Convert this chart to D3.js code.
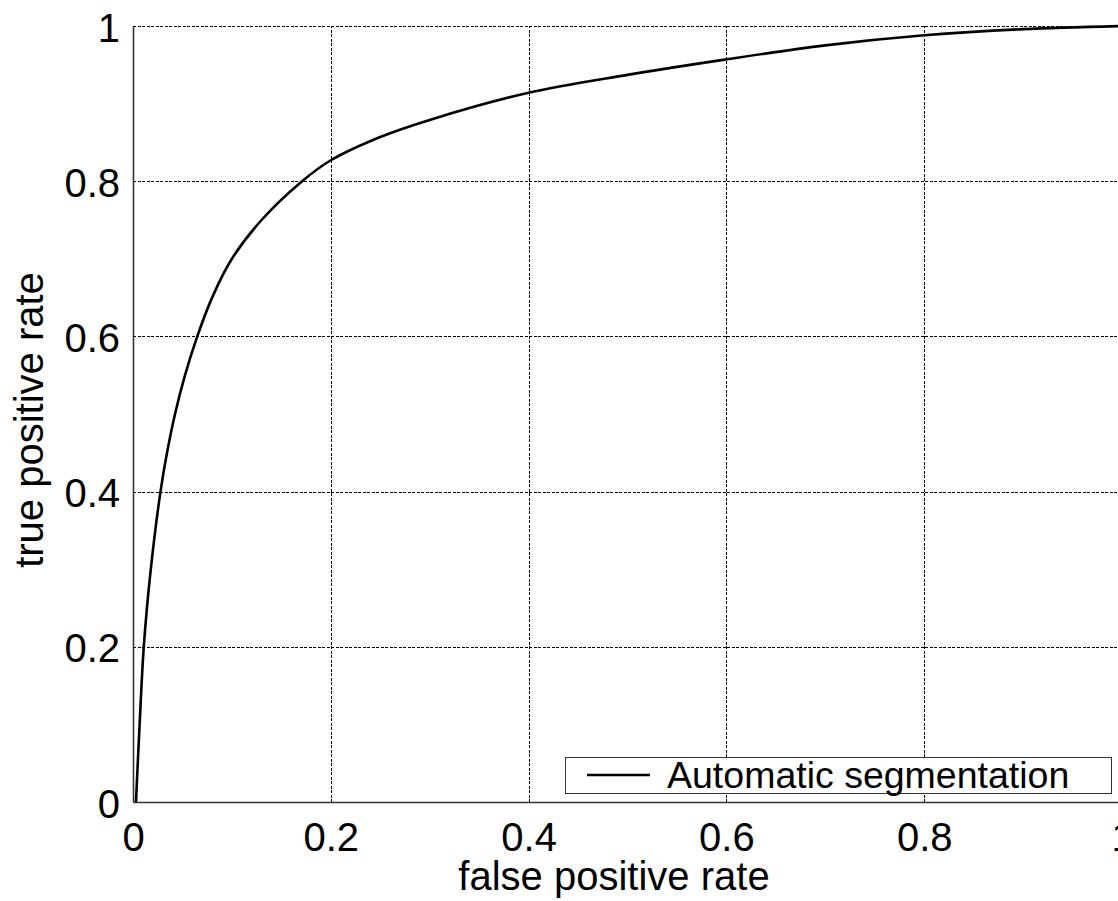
<!DOCTYPE html>
<html>
<head>
<meta charset="utf-8">
<script src="https://cdn.jsdelivr.net/npm/d3@7"></script>
<style>
    body { margin: 0; background: #fff; }
    svg { display: block; font-family: "Liberation Sans", Arial, sans-serif; }
</style>
</head>
<body>
<svg id="chart" width="1118" height="901"></svg>
<script>
// ROC curve
const fpr = [0.003, 0.0067, 0.0109, 0.018, 0.0278, 0.0344, 0.0425, 0.0526, 0.065, 0.08, 0.10, 0.13, 0.171, 0.2, 0.25, 0.3, 0.4, 0.5, 0.6, 0.7, 0.8, 0.9, 1.0];
const tpr = [0, 0.1, 0.2, 0.3, 0.4, 0.45, 0.5, 0.55, 0.6, 0.65, 0.7, 0.75, 0.8, 0.827, 0.857, 0.879, 0.914, 0.937, 0.957, 0.975, 0.988, 0.996, 1.0];
const xTicks = [0, 0.2, 0.4, 0.6, 0.8, 1];
const yTicks = [0, 0.2, 0.4, 0.6, 0.8, 1];
const seriesName = "Automatic segmentation";

const svg = d3.select("#chart");
const plotLeft = 133, plotRight = 1122, plotTop = 26, plotBottom = 802;

const x = d3.scaleLinear().domain([0, 1]).range([plotLeft, plotRight]);
const y = d3.scaleLinear().domain([0, 1]).range([plotBottom, plotTop]);
const fmt = d => String(d);

// grid (dotted)
const grid = svg.append("g").attr("stroke", "#000").attr("stroke-width", 1)
    .attr("stroke-dasharray", "3,1.5").attr("shape-rendering", "crispEdges");
grid.selectAll(".gx").data(xTicks.filter(d => d > 0)).join("line")
    .attr("x1", d => Math.round(x(d)) + 0.5).attr("x2", d => Math.round(x(d)) + 0.5)
    .attr("y1", plotBottom).attr("y2", plotTop);
grid.selectAll(".gy").data(yTicks.filter(d => d > 0)).join("line")
    .attr("y1", d => Math.round(y(d)) + 0.5).attr("y2", d => Math.round(y(d)) + 0.5)
    .attr("x1", plotLeft).attr("x2", plotRight);

// axes
const xAxis = d3.axisBottom(x).tickValues(xTicks).tickFormat(fmt).tickSize(0).tickPadding(0);
const yAxis = d3.axisLeft(y).tickValues(yTicks).tickFormat(fmt).tickSize(0).tickPadding(0);

const gx = svg.append("g").attr("transform", `translate(0,${plotBottom})`).call(xAxis);
gx.select(".domain").attr("stroke", "#333").attr("stroke-width", 1.6);
gx.selectAll("text").attr("font-size", 40).attr("fill", "#000")
    .attr("dy", null).attr("y", 49);

const gy = svg.append("g").attr("transform", `translate(${plotLeft},0)`).call(yAxis);
gy.select(".domain").attr("stroke", "#333").attr("stroke-width", 1.6);
gy.selectAll("text").attr("font-size", 40).attr("fill", "#000")
    .attr("dy", null).attr("x", -13).attr("y", 15);

// axis titles
svg.append("text").attr("x", 614).attr("y", 890).attr("text-anchor", "middle")
    .attr("font-size", 40).text("false positive rate");
svg.append("text").attr("transform", "translate(43,420) rotate(-90)")
    .attr("text-anchor", "middle").attr("font-size", 40).text("true positive rate");

// curve
const pts = fpr.map((v, i) => [v, tpr[i]]);
svg.append("path").datum(pts)
    .attr("fill", "none").attr("stroke", "#000").attr("stroke-width", 2.6)
    .attr("stroke-linejoin", "round")
    .attr("d", d3.line().x(d => x(d[0])).y(d => y(d[1])).curve(d3.curveCatmullRom.alpha(0.5)));

// legend
const lg = svg.append("g");
lg.append("rect").attr("x", 565.5).attr("y", 757.5).attr("width", 546).attr("height", 36)
    .attr("fill", "#fff").attr("stroke", "#333").attr("stroke-width", 1);
lg.append("line").attr("x1", 587).attr("x2", 650).attr("y1", 775).attr("y2", 775)
    .attr("stroke", "#000").attr("stroke-width", 2.6);
lg.append("text").attr("x", 667).attr("y", 788).attr("font-size", 37.5).text(seriesName);
</script>
</body>
</html>
